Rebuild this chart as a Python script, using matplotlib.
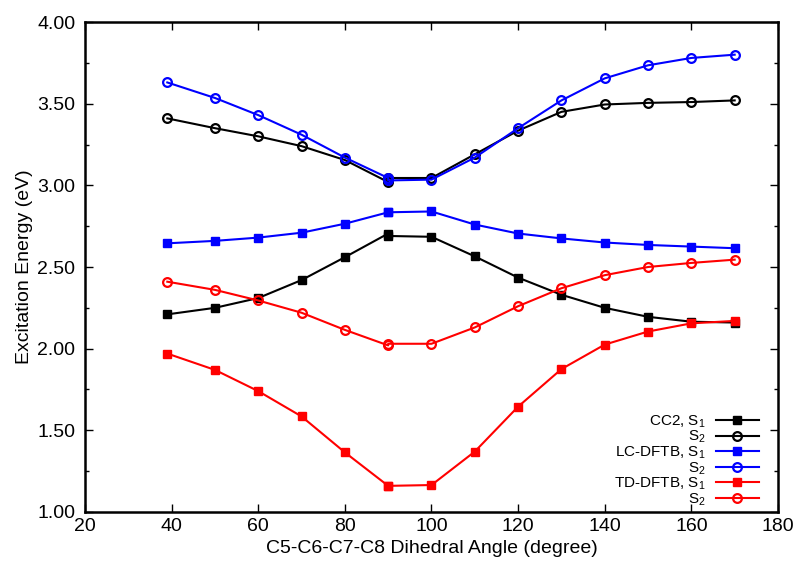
import numpy as np
import matplotlib.pyplot as plt
from matplotlib.ticker import MultipleLocator, FormatStrFormatter

plt.rcParams['font.family'] = ['Liberation Sans', 'DejaVu Sans']
plt.rcParams['mathtext.fontset'] = 'custom'
plt.rcParams['mathtext.rm'] = 'Liberation Sans'
plt.rcParams['mathtext.it'] = 'Liberation Sans'

# dihedral angles (two calculations at 90 degrees)
angle = [39, 50, 60, 70, 80, 90, 90, 100, 110, 120, 130, 140, 150, 160, 170]

cc2_s1 = [2.21, 2.25, 2.31, 2.42, 2.56, 2.705, 2.69, 2.685, 2.565, 2.435, 2.33, 2.25, 2.195, 2.165, 2.16]
cc2_s2 = [3.41, 3.35, 3.30, 3.24, 3.155, 3.02, 3.045, 3.045, 3.19, 3.335, 3.45, 3.495, 3.505, 3.51, 3.52]
lc_s1 = [2.645, 2.66, 2.68, 2.71, 2.765, 2.835, 2.835, 2.84, 2.76, 2.705, 2.675, 2.65, 2.635, 2.625, 2.615]
lc_s2 = [3.63, 3.535, 3.43, 3.31, 3.17, 3.045, 3.03, 3.035, 3.17, 3.35, 3.52, 3.655, 3.735, 3.78, 3.80]
td_s1 = [1.97, 1.87, 1.74, 1.585, 1.365, 1.16, 1.16, 1.165, 1.37, 1.645, 1.875, 2.025, 2.105, 2.155, 2.17]
td_s2 = [2.41, 2.36, 2.295, 2.22, 2.115, 2.02, 2.03, 2.03, 2.13, 2.26, 2.37, 2.45, 2.50, 2.525, 2.545]

series = [
    (cc2_s1, 'black', 's', 'CC2, S$_1$'),
    (cc2_s2, 'black', 'o', 'S$_2$'),
    (lc_s1, 'blue', 's', 'LC-DFTB, S$_1$'),
    (lc_s2, 'blue', 'o', 'S$_2$'),
    (td_s1, 'red', 's', 'TD-DFTB, S$_1$'),
    (td_s2, 'red', 'o', 'S$_2$'),
]

fig = plt.figure(figsize=(7.99, 5.63), dpi=100)
ax = fig.add_axes([0.1064, 0.0906, 0.8673, 0.8703])

for y, c, m, lab in series:
    if m == 's':
        ax.plot(angle, y, color=c, lw=1.5, marker='s', ms=5.5, label=lab)
    else:
        ax.plot(angle, y, color=c, lw=1.5, marker='o', ms=6.3, mfc='none',
                mew=1.6, label=lab)

ax.set_xlim(20, 180)
ax.set_ylim(1.0, 4.0)
ax.xaxis.set_major_locator(MultipleLocator(20))
ax.yaxis.set_major_locator(MultipleLocator(0.5))
ax.yaxis.set_minor_locator(MultipleLocator(0.25))
ax.yaxis.set_major_formatter(FormatStrFormatter('%.2f'))
ax.tick_params(which='both', direction='in', top=True, right=True, labelsize=14)
ax.tick_params(which='major', length=6, width=1)
ax.tick_params(which='minor', length=3, width=1)
ax.tick_params(axis='x', pad=4)
ax.tick_params(axis='y', pad=7)
for s in ax.spines.values():
    s.set_linewidth(1.8)

ax.set_xlabel('C5-C6-C7-C8 Dihedral Angle (degree)', fontsize=14, labelpad=4)
ax.set_ylabel('Excitation Energy (eV)', fontsize=14, labelpad=3)

leg = ax.legend(loc='lower right', bbox_to_anchor=(0.981, -0.004), frameon=False,
                markerfirst=False, fontsize=11, handlelength=2.8,
                labelspacing=-0.05, handletextpad=0.7, borderaxespad=0)

fig.savefig('out.png', dpi=100)
